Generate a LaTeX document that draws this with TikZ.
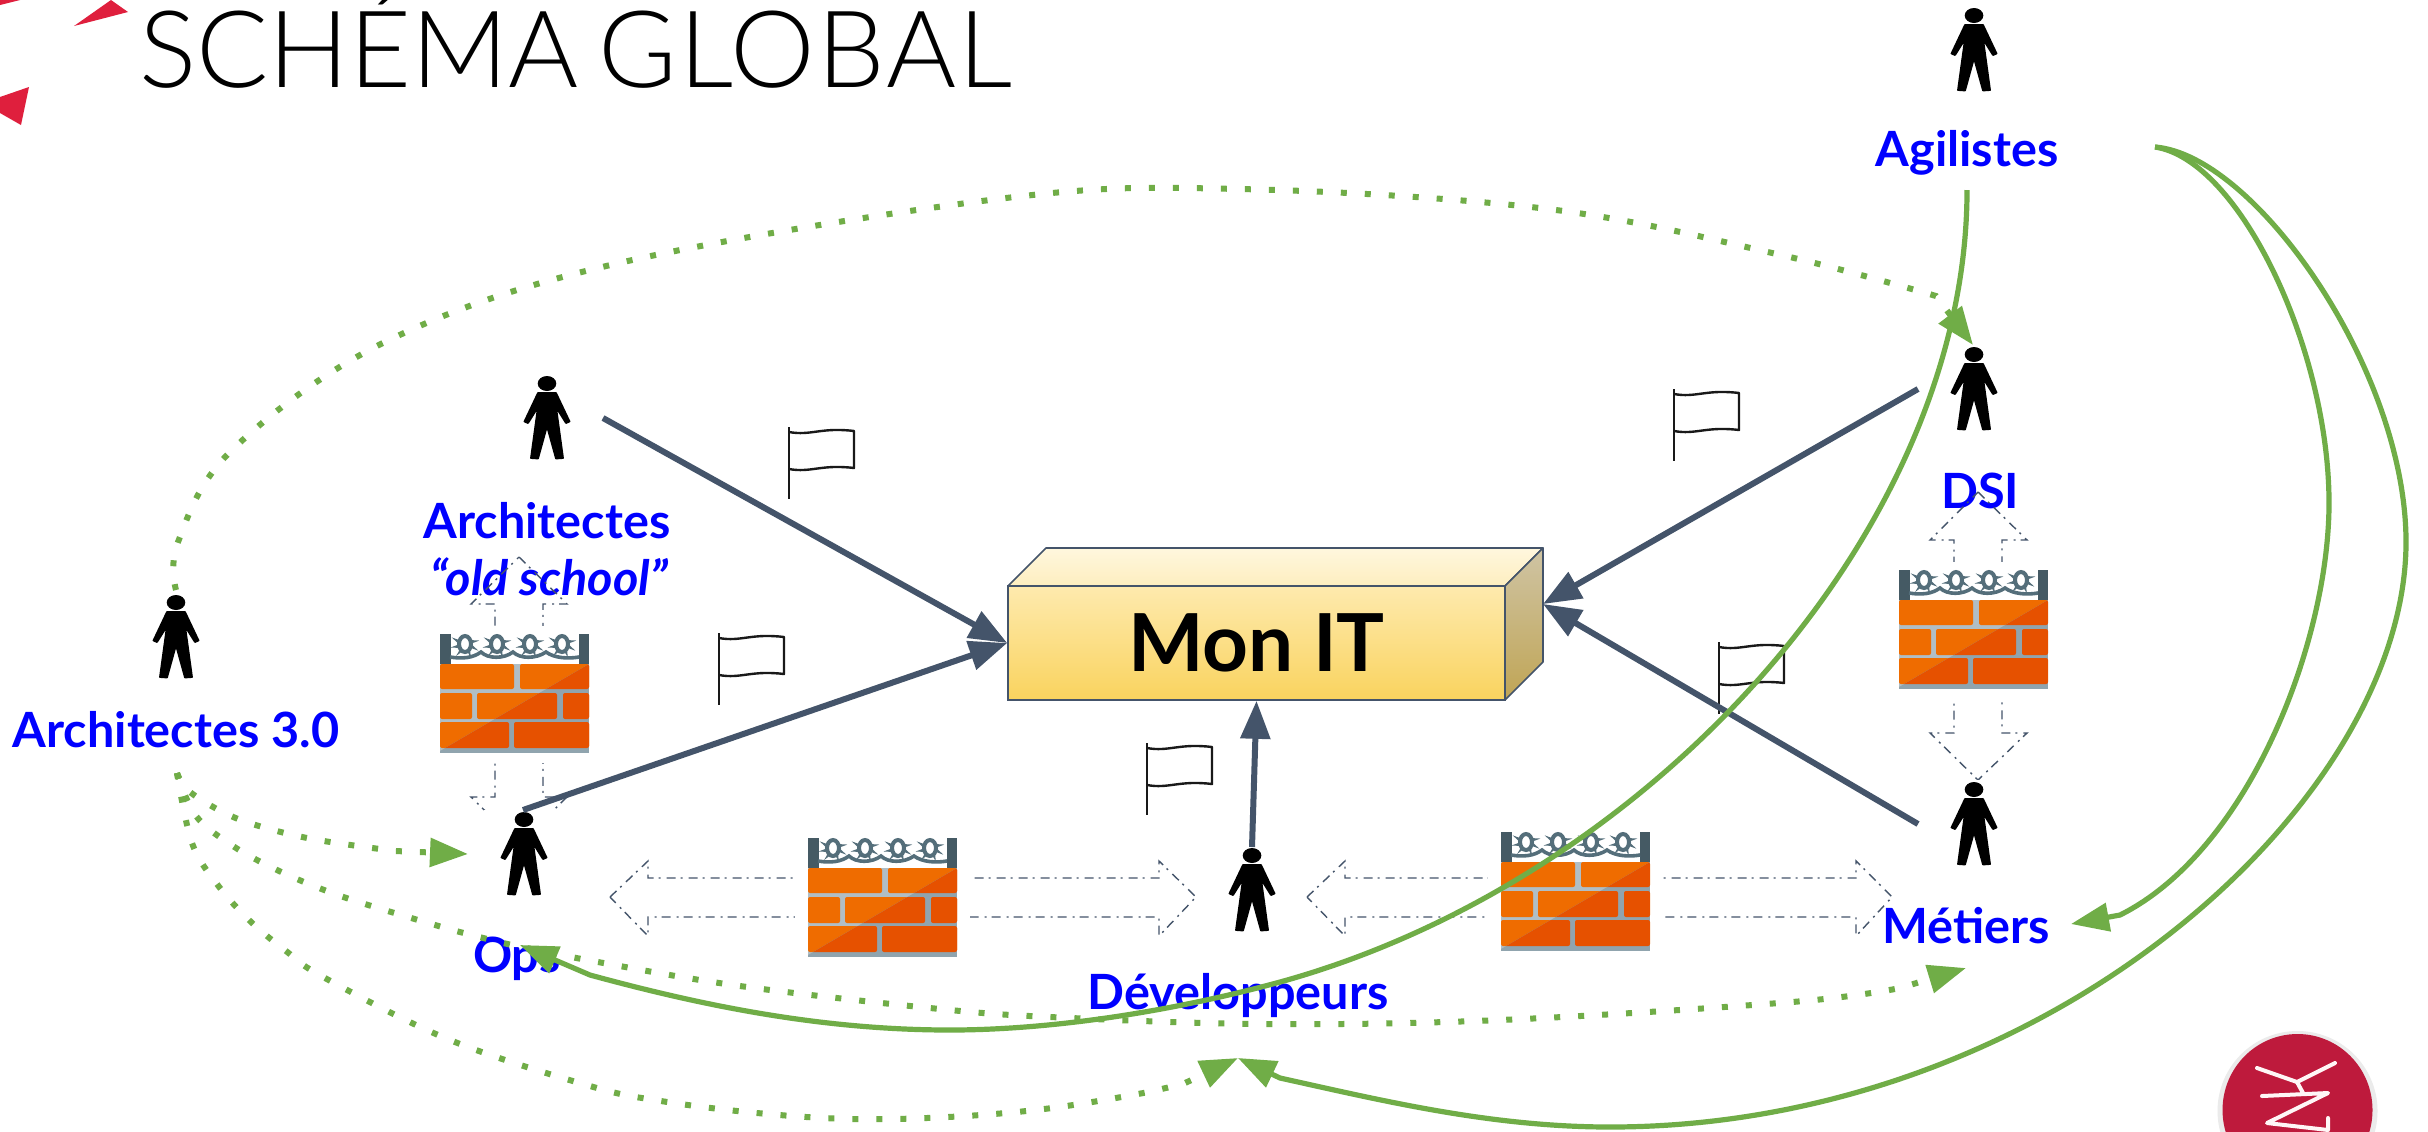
\documentclass[tikz,border=0pt]{standalone}
\usepackage{fontspec}
\setmainfont{Lato}
\newfontfamily\titlefont{Lato Light}
\usetikzlibrary{arrows.meta,calc}
\definecolor{slate}{HTML}{44546A}
\definecolor{leaf}{HTML}{70AD47}
\definecolor{purblue}{HTML}{0000FF}
\definecolor{brickL}{HTML}{EF6C00}
\definecolor{brickD}{HTML}{E65100}
\definecolor{mortL}{HTML}{B0BEC5}
\definecolor{mortD}{HTML}{90A4AE}
\definecolor{postc}{HTML}{455A64}
\definecolor{wirec}{HTML}{546E7A}
\definecolor{logored}{HTML}{BE1A3C}
\definecolor{shardred}{HTML}{DF1F3D}
\definecolor{frontT}{HTML}{FEEAAE}
\definecolor{frontB}{HTML}{F9D35E}
\definecolor{topT}{HTML}{FFF7DE}
\definecolor{topB}{HTML}{FDEEBF}
\definecolor{sideT}{HTML}{CFC4A4}
\definecolor{sideB}{HTML}{C0A555}
\newcommand{\brickrows}[1]{%
  \fill[#1,rounded corners=1pt] (0,30) rectangle (74,55);
  \fill[#1,rounded corners=1pt] (80,30) rectangle (149,55);
  \fill[#1,rounded corners=1pt] (0,59) rectangle (32,85);
  \fill[#1,rounded corners=1pt] (37,59) rectangle (117,85);
  \fill[#1,rounded corners=1pt] (123,59) rectangle (149,85);
  \fill[#1,rounded corners=1pt] (0,88) rectangle (69,114);
  \fill[#1,rounded corners=1pt] (74,88) rectangle (149,114);
}
\tikzset{
  x=0.5pt,y=-0.5pt,
  lbl/.style={font=\bfseries\fontsize{24.3}{28}\selectfont,text=purblue,inner sep=0pt,anchor=base},
  darkarrow/.style={draw=slate,line width=3pt,-{Triangle[length=19pt,width=14.5pt]}},
  greensolid/.style={draw=leaf,line width=2.6pt,-{Triangle[length=19pt,width=14pt]}},
  greendot/.style={draw=leaf,line width=3pt,dash pattern=on 3pt off 9pt,-{Triangle[length=19pt,width=14pt]}},
  hollow/.style={draw=slate,line width=0.7pt,dash pattern=on 4.5pt off 2.5pt on 1pt off 3pt},
  flagline/.style={draw=black!90,line width=1.2pt},
  person/.pic={
    \fill[white] (-40,-2) rectangle (40,87);
    \fill[black] (0,7.5) ellipse [x radius=9.3,y radius=7.5];
    \filldraw[black,line width=0.9pt,line join=round]
      (-9,17) -- (-22.5,45.5) -- (-19,47) -- (-9,31) -- (-16,82) -- (-9,82.5) -- (0,50)
      -- (9,82.5) -- (16,82) -- (9,31) -- (19,47) -- (22.5,45.5) -- (9,17) -- cycle;
  },
  flagpic/.pic={
    \draw[flagline] (0,0) -- (0,72);
    \draw[flagline,line join=round] (0,5) .. controls (22,9) and (32,0) .. (65,4) -- (65,41)
      .. controls (32,37) and (22,46) .. (0,42);
  },
  wall/.pic={
    \fill[white] (-13,-8) rectangle (162,129);
    \fill[mortL] (0,30) rectangle (149,119);
    \brickrows{brickL}
    \begin{scope}
      \clip (149,30) -- (149,119) -- (0,119) -- (0,117) -- cycle;
      \fill[mortD] (0,30) rectangle (149,119);
      \brickrows{brickD}
    \end{scope}
    \fill[postc] (0,0) rectangle (10.5,30);
    \fill[postc] (138.5,0) rectangle (149,30);
    \foreach \cx in {25,57,90,122}{
      \draw[wirec,line width=2pt] (\cx,10) ellipse [x radius=6,y radius=8];
      \foreach \a in {20,60,120,160,200,340}{
        \fill[wirec] (\cx,10) ++(\a+14:7) -- ++(\a:8) -- ($(\cx,10)+(\a-14:7)$) -- cycle;
      }
    }
    \draw[wirec,line width=1.8pt] (10,23) .. controls (22,25) and (33,24) .. (41,18)
      .. controls (48,25) and (64,25) .. (73,18)
      .. controls (80,25) and (96,25) .. (106,18)
      .. controls (114,24) and (128,25) .. (139,23);
  },
}
\begin{document}
\begin{tikzpicture}
\path[use as bounding box,clip] (0,0) rectangle (2428,1131);
\fill[white] (0,0) rectangle (2428,1131);

% decorative shards and logo
\fill[shardred] (74,26) -- (111,0) -- (128,12) -- cycle;
\fill[shardred] (0,97) -- (29,87) -- (21,125) -- (0,113) -- cycle;
\fill[shardred] (0,5) -- (20,0) -- (0,0) -- cycle;
\fill[black!8] (2297.5,1111) ellipse [x radius=80,y radius=80];
\fill[logored] (2297.5,1110) ellipse [x radius=75,y radius=76];
\draw[white!85!pink,line width=2pt,line cap=round,line join=round]
  (2257,1068) -- (2297,1082) -- (2335,1063)
  (2297,1082) -- (2303,1093)
  (2262,1096) -- (2328,1093) -- (2267,1123) -- (2328,1130) -- (2328,1118);

% title
\node (title) [anchor=base west,inner sep=0pt,font=\titlefont\fontsize{53.5}{60}\selectfont,text=black] at (139,87) {SCHÉMA\hspace{-5pt} {\addfontfeatures{LetterSpace=2}GLOBAL}};

% labels
\node (larch) [lbl] at (547,538) {Architectes};
\node (lold) [lbl,font=\bfseries\itshape\fontsize{24.3}{28}\selectfont] at (549,595) {“old school”};
\node (ldsi) [lbl] at (1980,508) {DSI};
\node (lagi) [lbl] at (1967,166) {Agilistes};
\node (lmet) [lbl] at (1966,943) {Métiers};
\node (la3) [lbl] at (176,747) {Architectes 3.0};
\node (lops) [lbl] at (517,972) {Ops};
\node (ldev) [lbl] at (1238,1009) {Développeurs};

% hollow double arrows
\draw[hollow] (610,897) -- (648,861) -- (648,878) -- (1159,878) -- (1159,861) -- (1196,897)
  -- (1159,936) -- (1159,917) -- (648,917) -- (648,936) -- cycle;
\draw[hollow] (1307,897) -- (1345,861) -- (1345,878) -- (1856,878) -- (1856,861) -- (1892,897)
  -- (1856,936) -- (1856,917) -- (1345,917) -- (1345,936) -- cycle;
\draw[hollow] (1978,492) -- (2027,540) -- (2002,540) -- (2002,733) -- (2027,733) -- (1978,780)
  -- (1930,733) -- (1954,733) -- (1954,540) -- (1930,540) -- cycle;
\draw[hollow] (519,557) -- (567,604) -- (543,604) -- (543,797) -- (567,797) -- (519,844)
  -- (471,797) -- (495,797) -- (495,604) -- (471,604) -- cycle;

% firewalls
\pic (wopsdev) at (440,634) {wall};
\pic (wdevmet) at (808,838) {wall};
\pic (wmet) at (1501,832) {wall};
\pic (wdsi) at (1899,570) {wall};

% persons
\pic (pagi) at (1974,8) {person};
\pic (parch) at (547,376) {person};
\pic (pdsi) at (1974,347) {person};
\pic (pmet) at (1974,782) {person};
\pic (pa3) at (176,595) {person};
\pic (pops) at (524,812) {person};
\pic (pdev) at (1252,848) {person};

% flags
\pic at (789,427) {flagpic};
\pic at (719,633) {flagpic};
\pic at (1147,743) {flagpic};
\pic at (1674,389) {flagpic};
\pic at (1719,642) {flagpic};

% central block
\shade[top color=topT,bottom color=topB,draw=slate,line width=0.8pt,line join=round]
  (1008,586) -- (1046,548) -- (1543,548) -- (1505,586) -- cycle;
\shade[top color=sideT,bottom color=sideB,draw=slate,line width=0.8pt,line join=round]
  (1505,586) -- (1543,548) -- (1543,662) -- (1505,700) -- cycle;
\node (monit) [draw=slate,line width=0.8pt,minimum width=248.5pt,minimum height=57pt,inner sep=0pt,
  top color=frontT,bottom color=frontB,
  font=\bfseries\fontsize{40}{46}\selectfont,text=black] at (1256.5,643) {Mon IT};

% named ends
\coordinate (cArch) at (603,418);
\coordinate (cOps) at (523,810);
\coordinate (cDev) at (1252,847);
\coordinate (cDsi) at (1918,389);
\coordinate (cMet) at (1918,824);
\coordinate (cRight) at (1543,604);
\coordinate (gAgiB) at (1967,190);
\coordinate (gAgiR) at (2155,147);
\coordinate (gOps) at (520,945);
\coordinate (gMetA) at (2071,924);
\coordinate (gDev) at (1238,1058);
\coordinate (gA3T) at (176,590);
\coordinate (gA3B) at (177,773);
\coordinate (gDsi) at (1973,345);
\coordinate (gOpsD) at (468,854);
\coordinate (gMetD) at (1966,968);

% dark arrows
\draw[darkarrow] (cArch) -- (monit.west);
\draw[darkarrow] (cOps) -- (monit.west);
\draw[darkarrow] (cDev) -- (monit.south);
\draw[darkarrow] (cDsi) -- (cRight);
\draw[darkarrow] (cMet) -- (cRight);

% dotted green
\draw[greendot] plot[smooth,tension=0.6] coordinates {(gA3T) (178,542) (232,450) (387,341) (619,263) (1006,198) (1239,189) (1548,209) (1781,255) (1936,296)} -- (gDsi);
\draw[greendot] plot[smooth,tension=0.6] coordinates {(gA3B) (190,792) (231,816) (277,831) (324,841) (395,851)} -- (gOpsD);
\draw[greendot] plot[smooth,tension=0.6] coordinates {(gA3B) (196,816) (233,846) (275,869) (319,888) (365,904) (456,931) (503,943) (598,962) (740,986) (930,1008) (1050,1017) (1266,1024) (1500,1020) (1792,1002) (1900,988)} -- (gMetD);
\draw[greendot] plot[smooth,tension=0.6] coordinates {(gA3B) (192,843) (217,884) (249,920) (286,951) (325,978) (450,1040) (590,1086) (661,1101) (757,1113) (852,1119) (948,1117) (1044,1109) (1138,1094) (1185,1083)} -- (gDev);

% solid green
\draw[greensolid] (gAgiB) .. controls (1967,530) and (1650,880) .. (1280,982)
  .. controls (1170,1012) and (1050,1030) .. (950,1030)
  .. controls (820,1030) and (700,1005) .. (590,975) -- (gOps);
\draw[greensolid] (gAgiR) .. controls (2240,160) and (2329,350) .. (2329,503)
  .. controls (2329,640) and (2250,850) .. (2120,915) -- (gMetA);
\draw[greensolid] (gAgiR) .. controls (2255,155) and (2406,370) .. (2406,542)
  .. controls (2406,800) and (2050,1127) .. (1610,1127)
  .. controls (1490,1127) and (1380,1100) .. (1280,1078) -- (gDev);
\end{tikzpicture}
\end{document}
